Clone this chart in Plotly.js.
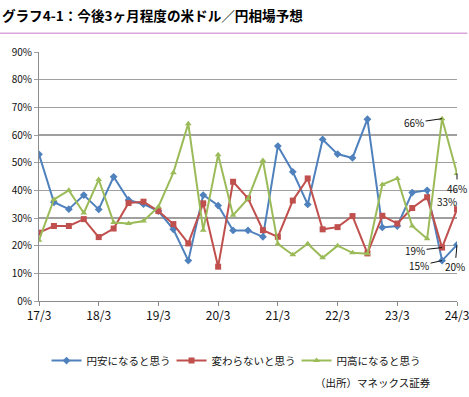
<!DOCTYPE html>
<html>
<head>
<meta charset="utf-8">
<script src="https://cdn.plot.ly/plotly-3.0.1.min.js"></script>
<style>html,body{margin:0;padding:0;background:#fff;}#chart{width:469px;height:397px;}</style>
</head>
<body>
<div id="chart"></div>
<script>
const categories = ['17/3','17/6','17/9','17/12','18/3','18/6','18/9','18/12','19/3','19/6','19/9','19/12','20/3','20/6','20/9','20/12','21/3','21/6','21/9','21/12','22/3','22/6','22/9','22/12','23/3','23/6','23/9','23/12','24/3'];
const yenWeak = [53, 35.7, 33.2, 38.3, 33.1, 44.9, 36.5, 35.0, 32.5, 25.9, 14.6, 38.3, 34.5, 25.5, 25.5, 23.2, 56.0, 46.7, 34.9, 58.4, 53.1, 51.7, 65.7, 26.6, 27.1, 39.2, 40.0, 14.6, 20.3];
const unchanged = [24.7, 27.1, 27.1, 29.6, 23.1, 26.2, 35.4, 35.9, 32.5, 27.8, 20.8, 35.3, 12.4, 43.1, 37.1, 25.6, 23.2, 36.3, 44.3, 25.9, 26.7, 30.7, 17.2, 30.8, 28.0, 33.6, 37.5, 19.3, 33.2];
const yenStrong = [22.0, 36.7, 40.0, 31.8, 43.9, 28.4, 28.0, 28.9, 34.1, 46.4, 64.1, 25.6, 52.9, 31.0, 37.0, 50.8, 20.6, 16.7, 20.7, 15.6, 20.0, 17.4, 17.1, 42.1, 44.3, 27.1, 22.5, 65.9, 46.1];
const seriesNames = ['円安になると思う', '変わらないと思う', '円高になると思う'];
const yearTicks = ['17/3','18/3','19/3','20/3','21/3','22/3','23/3','24/3'];
const yTicks = [0,10,20,30,40,50,60,70,80,90];
const yTickLabels = ['0%','10%','20%','30%','40%','50%','60%','70%','80%','90%'];

const FONT = '"Noto Sans CJK JP", "Noto Sans", sans-serif';
const last = categories.length - 1;
const prev = categories.length - 2;

const traces = [
  {x: categories, y: yenWeak, name: seriesNames[0], type: 'scatter', mode: 'lines+markers',
   line: {color: '#4F81BD', width: 2}, marker: {symbol: 'diamond', size: 6, color: '#4F81BD'}},
  {x: categories, y: unchanged, name: seriesNames[1], type: 'scatter', mode: 'lines+markers',
   line: {color: '#C0504D', width: 2}, marker: {symbol: 'square', size: 6, color: '#C0504D'}},
  {x: categories, y: yenStrong, name: seriesNames[2], type: 'scatter', mode: 'lines+markers',
   line: {color: '#9BBB59', width: 2}, marker: {symbol: 'triangle-up', size: 6, color: '#9BBB59'}}
];

function lbl(v){ return Math.round(v) + '%'; }
const annFont = {family: FONT, size: 10, color: '#111'};
const annotations = [
  {x: categories[prev], y: yenStrong[prev], text: lbl(yenStrong[prev]), showarrow: true, arrowhead: 0, arrowwidth: 1, arrowcolor: '#111', ax: -28, ay: 4, font: annFont},
  {x: categories[last], y: yenStrong[last], text: lbl(yenStrong[last]), showarrow: true, arrowhead: 0, arrowwidth: 1, arrowcolor: '#111', ax: 0, ay: 15, font: annFont},
  {x: categories[last], y: unchanged[last], text: lbl(unchanged[last]), showarrow: false, xshift: -10, yshift: 8, font: annFont},
  {x: categories[prev], y: unchanged[prev], text: lbl(unchanged[prev]), showarrow: true, arrowhead: 0, arrowwidth: 1, arrowcolor: '#111', ax: -27, ay: 3, font: annFont},
  {x: categories[prev], y: yenWeak[prev], text: lbl(yenWeak[prev]), showarrow: true, arrowhead: 0, arrowwidth: 1, arrowcolor: '#111', ax: -23, ay: 5, font: annFont},
  {x: categories[last], y: yenWeak[last], text: lbl(yenWeak[last]), showarrow: true, arrowhead: 0, arrowwidth: 1, arrowcolor: '#111', ax: -2, ay: 22, font: annFont},
  {xref: 'paper', yref: 'paper', x: 0.943, y: -0.329, xanchor: 'right', yanchor: 'middle', text: '（出所）マネックス証券', showarrow: false, font: {family: FONT, size: 10.5, color: '#111'}}
];

const layout = {
  width: 469, height: 397,
  margin: {l: 39, r: 12, t: 52, b: 96, pad: 0, autoexpand: false},
  paper_bgcolor: '#fff', plot_bgcolor: '#fff',
  font: {family: FONT, color: '#111'},
  title: {text: '<b>グラフ4-1：今後3ヶ月程度の米ドル／円相場予想</b>', x: 0.004, xanchor: 'left', xref: 'container',
          y: 0.96, yanchor: 'middle', yref: 'container', font: {family: FONT, size: 13.6, color: '#000'}},
  xaxis: {type: 'category', range: [0, last], tickmode: 'array', tickvals: yearTicks, ticktext: yearTicks,
          showgrid: false, zeroline: false, showline: true, linecolor: '#8c8c8c', linewidth: 1,
          ticks: 'outside', ticklen: 4, tickcolor: '#8c8c8c', tickfont: {family: FONT, size: 12, color: '#111'}, fixedrange: true},
  yaxis: {range: [0, 90], tickmode: 'array', tickvals: yTicks, ticktext: yTickLabels,
          showgrid: true, gridcolor: '#a0a0a0', gridwidth: 1.3, zeroline: false, showline: true, linecolor: '#8c8c8c', linewidth: 1,
          ticks: 'outside', ticklen: 4, tickcolor: '#a0a0a0', tickfont: {family: FONT, size: 10, color: '#111'}, fixedrange: true},
  legend: {orientation: 'h', x: 0.018, xanchor: 'left', y: -0.181, yanchor: 'top', itemwidth: 30,
           entrywidth: 80, entrywidthmode: 'pixels', font: {family: FONT, size: 10.5, color: '#111'}, bgcolor: 'rgba(0,0,0,0)'},
  shapes: [{type: 'line', xref: 'paper', yref: 'paper', x0: -0.0934, x1: 1.0247, y0: 1.075, y1: 1.075,
            line: {color: '#dba6dc', width: 1.5}}],
  annotations: annotations,
  showlegend: true
};

Plotly.newPlot('chart', traces, layout, {displayModeBar: false, staticPlot: true});
</script>
</body>
</html>
